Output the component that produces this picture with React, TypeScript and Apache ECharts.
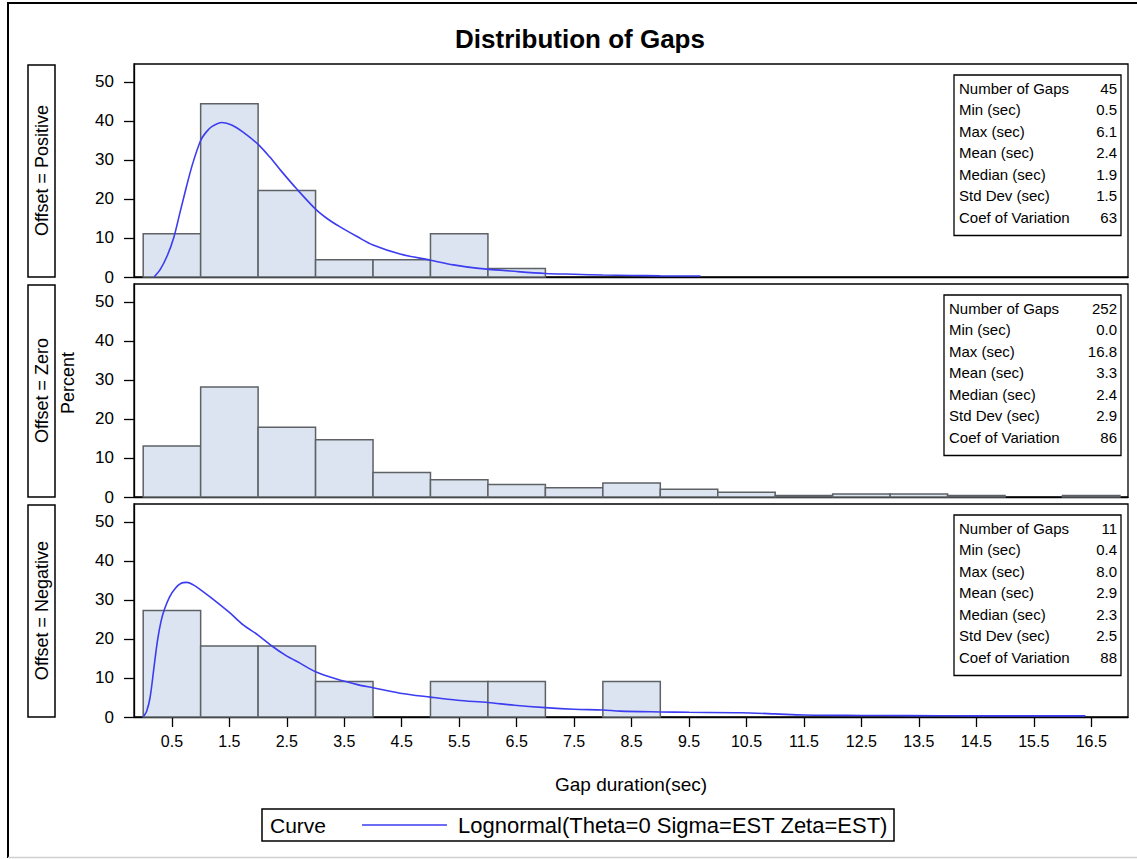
import React, { useEffect, useRef } from "react";
import * as echarts from "echarts";

// ---------- data ----------
const binStarts = [0, 1, 2, 3, 4, 5, 6, 7, 8, 9, 10, 11, 12, 13, 14, 15, 16];
const positivePct = [11.1, 44.4, 22.2, 4.4, 4.4, 11.1, 2.2];
const zeroPct = [13.1, 28.2, 17.9, 14.7, 6.3, 4.4, 3.2, 2.4, 3.6, 2.0, 1.2, 0.4, 0.8, 0.8, 0.4, 0, 0.4];
const negativePct = [27.3, 18.2, 18.2, 9.1, 0, 9.1, 9.1, 0, 9.1];

const positiveCurveX = [0.19, 0.3, 0.42, 0.53, 0.64, 0.75, 0.86, 1.0, 1.1, 1.2, 1.37, 1.55, 1.75, 2.0, 2.2, 2.4, 2.67, 3.0, 3.2, 3.42, 3.73, 4.0, 4.47, 5.0, 5.4, 5.84, 6.5, 7.0, 7.5, 8.0, 8.5, 9.0, 9.7];
const positiveCurveY = [0, 2, 5.5, 10, 16.5, 23, 29, 35, 37.2, 38.6, 39.6, 38.9, 37.0, 34.0, 30.8, 27.2, 22.6, 17.4, 15.0, 12.9, 10.3, 8.2, 5.9, 4.3, 3.1, 2.2, 1.4, 0.9, 0.7, 0.5, 0.4, 0.3, 0.25];

const negativeCurveX = [0.0, 0.06, 0.12, 0.19, 0.25, 0.31, 0.37, 0.46, 0.56, 0.66, 0.76, 0.88, 1.0, 1.18, 1.5, 1.74, 2.0, 2.24, 2.48, 2.73, 3.0, 3.35, 3.73, 4.0, 4.47, 5.0, 5.47, 6.0, 6.46, 7.0, 7.5, 8.0, 8.3, 9.0, 9.5, 10.4, 11.0, 11.5, 12.5, 13.3, 14.5, 16.4];
const negativeCurveY = [0, 1.5, 5, 13, 19.7, 24.5, 27.6, 30.8, 33.0, 34.3, 34.5, 33.8, 32.6, 30.6, 26.8, 23.6, 21.0, 18.2, 15.8, 13.8, 11.6, 9.8, 8.3, 7.5, 6.1, 5.1, 4.3, 3.7, 3.0, 2.4, 2.0, 1.8, 1.5, 1.3, 1.2, 1.1, 0.8, 0.5, 0.4, 0.35, 0.3, 0.3];

const xTickValues = [0.5, 1.5, 2.5, 3.5, 4.5, 5.5, 6.5, 7.5, 8.5, 9.5, 10.5, 11.5, 12.5, 13.5, 14.5, 15.5, 16.5];
const yTickValues = [0, 10, 20, 30, 40, 50];

const panelNames = ["Offset = Positive", "Offset = Zero", "Offset = Negative"];
const statLabels = ["Number of Gaps", "Min (sec)", "Max (sec)", "Mean (sec)", "Median (sec)", "Std Dev (sec)", "Coef of Variation"];
const positiveStats = ["45", "0.5", "6.1", "2.4", "1.9", "1.5", "63"];
const zeroStats = ["252", "0.0", "16.8", "3.3", "2.4", "2.9", "86"];
const negativeStats = ["11", "0.4", "8.0", "2.9", "2.3", "2.5", "88"];

const titleText = "Distribution of Gaps";
const xAxisTitle = "Gap duration(sec)";
const yAxisTitle = "Percent";
const legendHeader = "Curve";
const curveName = "Lognormal(Theta=0 Sigma=EST Zeta=EST)";

// ---------- layout ----------
const W = 1137;
const H = 859;
const FONT = "'Liberation Sans', Arial, sans-serif";
const PLOT_LEFT = 134;
const PLOT_RIGHT = 1128;
const PANEL_TOPS = [64, 284, 504];
const PANEL_H = 213;
const X_MIN = -0.16;
const X_MAX = 17.14;
const Y_MAX = 54.6;
const BAR_FILL = "#dbe4f0";
const BAR_STROKE = "#5e6266";
const CURVE_COLOR = "#3c3cf0";

const panelPct = [positivePct, zeroPct, negativePct];
const panelStats = [positiveStats, zeroStats, negativeStats];
const panelCurves: (null | { x: number[]; y: number[] })[] = [
  { x: positiveCurveX, y: positiveCurveY },
  null,
  { x: negativeCurveX, y: negativeCurveY },
];
const insetLeft = [954, 944, 954];

function buildOption() {
  const grids = PANEL_TOPS.map((top) => ({
    left: PLOT_LEFT,
    top,
    width: PLOT_RIGHT - PLOT_LEFT,
    height: PANEL_H,
    show: true,
    borderColor: "#000",
    borderWidth: 1.3,
    backgroundColor: "transparent",
  }));

  const xAxes = PANEL_TOPS.map((_, i) => {
    const last = i === 2;
    return {
      type: "value",
      gridIndex: i,
      min: X_MIN,
      max: X_MAX,
      axisLine: { show: true, onZero: false, lineStyle: { color: "#000", width: 1.3 } },
      splitLine: { show: false },
      axisTick: last
        ? { show: true, customValues: xTickValues, length: 10, lineStyle: { color: "#000", width: 1.3 } }
        : { show: false },
      axisLabel: last
        ? {
            show: true,
            customValues: xTickValues,
            formatter: (v: number) => v.toFixed(1),
            color: "#000",
            fontSize: 16,
            fontFamily: FONT,
            margin: 16,
          }
        : { show: false },
      name: last ? xAxisTitle : "",
      nameLocation: "middle",
      nameGap: 58,
      nameTextStyle: { color: "#000", fontSize: 19, fontFamily: FONT },
    };
  });

  const yAxes = PANEL_TOPS.map((_, i) => ({
    type: "value",
    gridIndex: i,
    min: 0,
    max: Y_MAX,
    axisLine: { show: true, onZero: false, lineStyle: { color: "#000", width: 1.3 } },
    splitLine: { show: false },
    axisTick: { show: true, customValues: yTickValues, length: 10, lineStyle: { color: "#000", width: 1.3 } },
    axisLabel: {
      show: true,
      customValues: yTickValues,
      color: "#000",
      fontSize: 17,
      fontFamily: FONT,
      margin: 20,
    },
  }));

  const series: any[] = [];
  panelPct.forEach((pcts, i) => {
    const data = pcts
      .map((v, k) => [binStarts[k], binStarts[k] + 1, v])
      .filter((d) => d[2] > 0);
    series.push({
      type: "custom",
      xAxisIndex: i,
      yAxisIndex: i,
      encode: { x: [0, 1], y: 2 },
      data,
      renderItem: (params: any, api: any) => {
        const x0 = api.value(0);
        const x1 = api.value(1);
        const y = api.value(2);
        const p0 = api.coord([x0, y]);
        const p1 = api.coord([x1, 0]);
        return {
          type: "rect",
          shape: { x: p0[0], y: p0[1], width: p1[0] - p0[0], height: p1[1] - p0[1] },
          style: { fill: BAR_FILL, stroke: BAR_STROKE, lineWidth: 1.5 },
        };
      },
      silent: true,
    });
    const c = panelCurves[i];
    if (c) {
      series.push({
        type: "line",
        name: curveName,
        xAxisIndex: i,
        yAxisIndex: i,
        data: c.x.map((x, k) => [x, c.y[k]]),
        showSymbol: false,
        smooth: 0.3,
        lineStyle: { color: CURVE_COLOR, width: 1.6 },
        z: 5,
        silent: true,
      });
    }
  });

  const graphics: any[] = [];
  // outer frame (left and top edges visible; right edge lies outside the picture)
  graphics.push({
    type: "polyline",
    shape: { points: [[8, 858], [8, 3], [1137, 3]] },
    style: { stroke: "#000", lineWidth: 2, fill: null },
    silent: true,
  });
  graphics.push({
    type: "line",
    shape: { x1: 8, y1: 857.5, x2: 1137, y2: 857.5 },
    style: { stroke: "#d0d0d0", lineWidth: 1.5 },
    silent: true,
  });
  graphics.push({
    type: "text",
    x: 580,
    y: 39,
    style: {
      text: titleText,
      align: "center",
      verticalAlign: "middle",
      fontSize: 26,
      fontWeight: "bold",
      fontFamily: FONT,
      fill: "#000",
    },
  });
  PANEL_TOPS.forEach((top, i) => {
    graphics.push({
      type: "rect",
      shape: { x: 28, y: top + 1, width: 27, height: PANEL_H - 1 },
      style: { fill: "#fff", stroke: "#000", lineWidth: 1.5 },
      silent: true,
    });
    graphics.push({
      type: "text",
      x: 41.5,
      y: top + PANEL_H / 2,
      rotation: Math.PI / 2,
      style: {
        text: panelNames[i],
        align: "center",
        verticalAlign: "middle",
        fontSize: 18,
        fontFamily: FONT,
        fill: "#000",
      },
    });
  });
  graphics.push({
    type: "text",
    x: 68,
    y: 383,
    rotation: Math.PI / 2,
    style: {
      text: yAxisTitle,
      align: "center",
      verticalAlign: "middle",
      fontSize: 18,
      fontFamily: FONT,
      fill: "#000",
    },
  });
  PANEL_TOPS.forEach((top, i) => {
    const left = insetLeft[i];
    const right = 1121;
    const boxTop = top + 11;
    const rowH = 21.5;
    graphics.push({
      type: "rect",
      shape: { x: left, y: boxTop, width: right - left, height: rowH * 7 + 10 },
      style: { fill: "#fff", stroke: "#000", lineWidth: 1.3 },
      silent: true,
    });
    statLabels.forEach((lab, r) => {
      const cy = boxTop + 13 + r * rowH;
      graphics.push({
        type: "text",
        x: left + 5,
        y: cy,
        style: { text: lab, align: "left", verticalAlign: "middle", fontSize: 15, fontFamily: FONT, fill: "#000" },
      });
      graphics.push({
        type: "text",
        x: right - 4,
        y: cy,
        style: { text: panelStats[i][r], align: "right", verticalAlign: "middle", fontSize: 15, fontFamily: FONT, fill: "#000" },
      });
    });
  });
  graphics.push({
    type: "rect",
    shape: { x: 262, y: 809, width: 632, height: 32 },
    style: { fill: "#fff", stroke: "#000", lineWidth: 1.5 },
    silent: true,
  });
  graphics.push({
    type: "text",
    x: 270,
    y: 825,
    style: { text: legendHeader, align: "left", verticalAlign: "middle", fontSize: 21, fontFamily: FONT, fill: "#000" },
  });
  graphics.push({
    type: "line",
    shape: { x1: 362, y1: 825, x2: 447, y2: 825 },
    style: { stroke: CURVE_COLOR, lineWidth: 1.6 },
    silent: true,
  });
  graphics.push({
    type: "text",
    x: 458,
    y: 825,
    style: { text: curveName, align: "left", verticalAlign: "middle", fontSize: 22, fontFamily: FONT, fill: "#000" },
  });

  return {
    animation: false,
    backgroundColor: "#fff",
    textStyle: { fontFamily: FONT },
    grid: grids,
    xAxis: xAxes,
    yAxis: yAxes,
    series,
    graphic: graphics,
  };
}

export default function App() {
  const ref = useRef<HTMLDivElement>(null);
  useEffect(() => {
    if (!ref.current) return;
    const chart = echarts.init(ref.current, undefined, { renderer: "svg", width: W, height: H });
    chart.setOption(buildOption() as any);
    return () => chart.dispose();
  }, []);
  return (
    <div
      ref={ref}
      style={{ position: "absolute", left: 0, top: 0, width: W, height: H, background: "#fff" }}
    />
  );
}
